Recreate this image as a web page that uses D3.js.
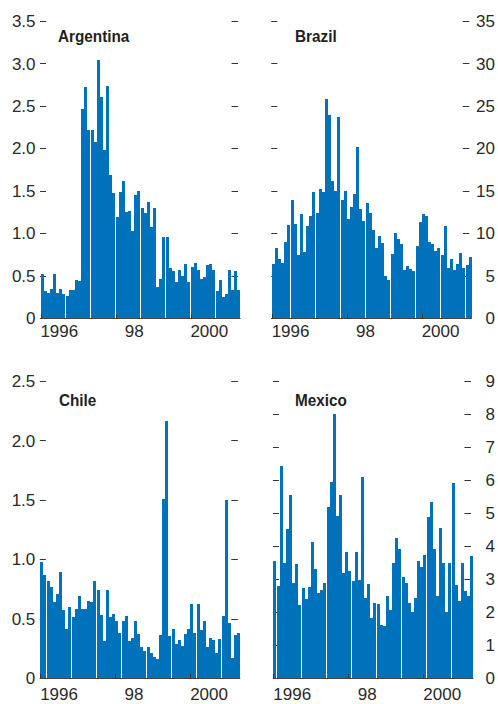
<!DOCTYPE html>
<html>
<head>
<meta charset="utf-8">
<title>Monthly volatility, 1996-2001</title>
<script src="https://cdnjs.cloudflare.com/ajax/libs/d3/7.8.5/d3.min.js"></script>
<style>
  body { margin: 0; background: #fff; }
  svg { display: block; font-family: "Liberation Sans", Arial, sans-serif; }
  .lab { font-size: 17px; fill: #2a2a2a; }
  .title { font-size: 17px; font-weight: bold; fill: #231f20; }
</style>
</head>
<body>
<svg id="chart" width="498" height="704"></svg>
<script>
// monthly values, Jan 1996 - Apr 2001 (64 months)
var argentina = [0.52,0.32,0.30,0.34,0.52,0.30,0.34,0.28, 0.26,0.33,0.33,0.45,0.44,2.46,2.72,2.22,
                 2.22,2.07,3.04,2.61,1.98,2.73,1.69,1.47, 1.19,1.49,1.62,1.25,1.26,1.02,1.45,1.50,
                 1.30,1.24,1.37,1.07,1.30,0.37,0.46,0.96, 0.95,0.59,0.55,0.42,0.57,0.50,0.64,0.43,
                 0.60,0.65,0.57,0.46,0.48,0.62,0.64,0.56, 0.32,0.45,0.25,0.28,0.57,0.33,0.55,0.33];
var brazil = [6.4,8.3,7.0,6.5,9.0,11.0,13.9,11.1, 7.4,12.2,7.8,10.9,12.0,14.9,12.4,15.2,
              14.9,25.8,23.9,16.2,15.0,23.7,13.9,15.0, 11.7,13.1,14.6,20.1,12.8,11.4,13.5,12.4,
              10.4,8.3,9.7,8.8,4.9,4.5,7.5,10.0, 9.3,8.7,5.6,6.1,5.8,5.5,8.5,11.3,
              12.3,12.0,9.0,8.7,7.9,8.2,7.4,10.9, 5.9,6.9,5.7,6.4,7.7,5.9,6.2,7.2];
var chile = [0.98,0.87,0.82,0.77,0.64,0.71,0.89,0.57, 0.41,0.60,0.51,0.58,0.69,0.58,0.58,0.65,
             0.64,0.82,0.74,0.53,0.31,0.74,0.51,0.54, 0.48,0.38,0.48,0.52,0.31,0.34,0.48,0.37,
             0.26,0.23,0.26,0.21,0.18,0.16,0.36,1.51, 2.16,0.35,0.41,0.29,0.32,0.27,0.37,0.41,
             0.62,0.38,0.62,0.40,0.48,0.26,0.34,0.32, 0.21,0.33,0.52,1.50,0.46,0.17,0.36,0.38];
var mexico = [3.54,2.80,6.42,3.50,4.53,5.54,2.89,3.44, 2.20,2.74,2.38,2.77,4.11,3.29,2.59,2.68,
              2.89,5.17,5.93,8.00,4.90,5.54,3.17,3.81, 3.23,2.93,3.81,2.96,6.08,2.41,2.86,1.83,
              2.26,2.23,1.62,1.59,2.50,2.07,3.47,4.23, 3.90,3.05,2.89,2.26,2.01,2.41,3.56,3.35,
              3.74,4.87,5.32,3.90,2.50,4.56,3.47,2.01, 3.50,5.90,2.83,2.32,3.47,2.65,2.47,3.71];

var argTicks = [0, 0.5, 1.0, 1.5, 2.0, 2.5, 3.0, 3.5];
var braTicks = [0, 5, 10, 15, 20, 25, 30, 35];
var chiTicks = [0, 0.5, 1.0, 1.5, 2.0, 2.5];
var mexTicks = [0, 1, 2, 3, 4, 5, 6, 7, 8, 9];

var yearTicks = [1996, 1998, 2000];
var yearLabels = ["1996", "98", "2000"];
var nMonths = 64, firstYear = 1996;

var fmtDec = function(d) { return d === 0 ? "0" : d3.format(".1f")(d); };
var fmtInt = d3.format("d");

var panels = [
  {name: "Argentina", values: argentina, ticks: argTicks, fmt: fmtDec, side: "left",
   x0: 40.55, top: 21, bottom: 318, titleX: 58, titleY: 42, labY: 337},
  {name: "Brazil", values: brazil, ticks: braTicks, fmt: fmtInt, side: "right",
   x0: 271.8, top: 21, bottom: 318, titleX: 295, titleY: 42, labY: 337},
  {name: "Chile", values: chile, ticks: chiTicks, fmt: fmtDec, side: "left",
   x0: 40.3, top: 381, bottom: 678, titleX: 59, titleY: 406, labY: 700},
  {name: "Mexico", values: mexico, ticks: mexTicks, fmt: fmtInt, side: "right",
   x0: 273.45, top: 381, bottom: 678, titleX: 295, titleY: 406, labY: 700}
];

var svg = d3.select("#chart");
svg.append("rect").attr("width", 498).attr("height", 704).attr("fill", "#fff");

panels.forEach(function(p) {
  var x = d3.scaleLinear().domain([0, nMonths]).range([p.x0, p.x0 + 200]);
  var y = d3.scaleLinear().domain([0, d3.max(p.ticks)]).range([p.bottom, p.top]);
  var right = x(nMonths);
  var step = x(1) - x(0);
  var g = svg.append("g");

  // tick dashes, both sides, drawn under the bars
  g.selectAll("line.l").data(p.ticks).enter().append("line")
    .attr("x1", p.x0 - 0.5).attr("x2", p.x0 + 5.5)
    .attr("y1", function(d) { return Math.round(y(d)) + 0.5; })
    .attr("y2", function(d) { return Math.round(y(d)) + 0.5; })
    .attr("stroke", "#333").attr("stroke-width", 1);
  g.selectAll("line.r").data(p.ticks).enter().append("line")
    .attr("x1", right - 9).attr("x2", right - 2.5)
    .attr("y1", function(d) { return Math.round(y(d)) + 0.5; })
    .attr("y2", function(d) { return Math.round(y(d)) + 0.5; })
    .attr("stroke", "#333").attr("stroke-width", 1);

  // baseline
  g.append("line")
    .attr("x1", p.x0 - 0.5).attr("x2", right)
    .attr("y1", p.bottom + 0.5).attr("y2", p.bottom + 0.5)
    .attr("stroke", "#444").attr("stroke-width", 1);

  // bars
  g.selectAll("rect.bar").data(p.values).enter().append("rect")
    .attr("class", "bar")
    .attr("x", function(d, i) { return x(i); })
    .attr("width", step - 0.125)
    .attr("y", function(d) { return y(d); })
    .attr("height", function(d) { return y(0) - y(d); })
    .attr("fill", "#0072bc")
    .attr("shape-rendering", "crispEdges");

  // year ticks on top of bars
  g.selectAll("line.yr").data(yearTicks).enter().append("line")
    .attr("x1", function(d) { return Math.round(x((d - firstYear) * 12)) + 0.5; })
    .attr("x2", function(d) { return Math.round(x((d - firstYear) * 12)) + 0.5; })
    .attr("y1", p.bottom + 0.5).attr("y2", p.bottom - 4)
    .attr("stroke", "#333").attr("stroke-width", 1);

  // year labels centred in each labelled year
  g.selectAll("text.yr").data(yearTicks).enter().append("text")
    .attr("class", "lab")
    .attr("x", function(d) { return x((d - firstYear) * 12 + 6); })
    .attr("y", p.labY)
    .attr("text-anchor", "middle")
    .text(function(d, i) { return yearLabels[i]; });

  // value labels
  g.selectAll("text.val").data(p.ticks).enter().append("text")
    .attr("class", "lab")
    .attr("x", p.side === "left" ? p.x0 - 5 : 495)
    .attr("y", function(d) { return y(d); })
    .attr("dy", "0.36em")
    .attr("text-anchor", "end")
    .text(p.fmt);

  // condensed bold title
  g.append("text").attr("class", "title")
    .attr("transform", "translate(" + p.titleX + "," + p.titleY + ") scale(0.9,1)")
    .text(p.name);
});
</script>
</body>
</html>
